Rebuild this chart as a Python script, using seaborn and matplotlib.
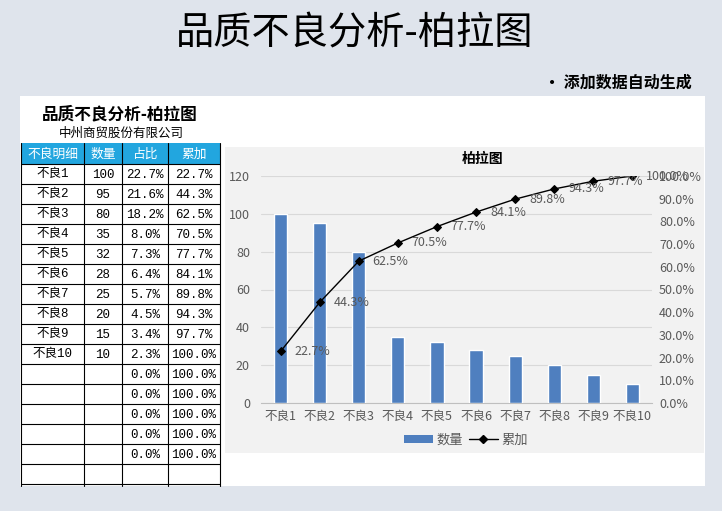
import matplotlib
matplotlib.use('Agg')
import matplotlib.pyplot as plt
import seaborn as sns
import pandas as pd
from matplotlib.patches import Rectangle, Patch
from matplotlib.lines import Line2D
from matplotlib.ticker import FuncFormatter, FixedLocator

# ---------------- data ----------------
categories = ['不良1', '不良2', '不良3', '不良4', '不良5', '不良6', '不良7', '不良8', '不良9', '不良10']
counts = [100, 95, 80, 35, 32, 28, 25, 20, 15, 10]
share_pct = [22.7, 21.6, 18.2, 8.0, 7.3, 6.4, 5.7, 4.5, 3.4, 2.3]
cum_pct = [22.7, 44.3, 62.5, 70.5, 77.7, 84.1, 89.8, 94.3, 97.7, 100.0]
extra_share = ['0.0%', '0.0%', '0.0%', '0.0%', '0.0%']
extra_cum = ['100.0%', '100.0%', '100.0%', '100.0%', '100.0%']
table_header = ['不良明细', '数量', '占比', '累加']
main_title = '品质不良分析-柏拉图'
note_text = '· 添加数据自动生成'
panel_title = '品质不良分析-柏拉图'
company = '中州商贸股份有限公司'
chart_title = '柏拉图'
left_ticks = [0, 20, 40, 60, 80, 100, 120]
right_ticks = [0, 10, 20, 30, 40, 50, 60, 70, 80, 90, 100]
series_names = ['数量', '累加']

df = pd.DataFrame({'cat': categories, 'count': counts, 'cum': cum_pct})

# ---------------- style ----------------
sns.set_theme(style='white')
plt.rcParams['font.family'] = ['Noto Sans CJK SC', 'DejaVu Sans']

W, H = 722, 511
BAR = '#4f7fbf'
GRAY = '#595959'
HEAD = '#22a6df'

fig = plt.figure(figsize=(W / 100, H / 100), dpi=100, facecolor='#dfe4ec')


def box(x0, y0, x1, y1):
    return [x0 / W, 1 - y1 / H, (x1 - x0) / W, (y1 - y0) / H]


bg = fig.add_axes([0, 0, 1, 1])
bg.set_xlim(0, W)
bg.set_ylim(H, 0)
bg.axis('off')
bg.set_zorder(0)

# panels
bg.add_patch(Rectangle((20, 96), 685, 390, facecolor='white', edgecolor='none'))
bg.add_patch(Rectangle((225, 147), 479, 306, facecolor='#f2f2f2', edgecolor='none'))

# titles
bg.text(355, 34, main_title, ha='center', va='center', fontsize=27.5, color='black')
bg.text(692, 83, note_text, ha='right', va='center', fontsize=11.5, fontweight='bold', color='black')
bg.text(120, 114, panel_title, ha='center', va='center', fontsize=12, fontweight='bold', color='black')
bg.text(121, 133, company, ha='center', va='center', fontsize=9, color='black')

# ---------------- table ----------------
cols = [21, 84, 122, 168, 220]
top, head_bot, row_h = 143, 164, 20
n_rows = 16
bottom = head_bot + n_rows * row_h
bg.add_patch(Rectangle((cols[0], top), cols[-1] - cols[0], head_bot - top,
                       facecolor=HEAD, edgecolor='none'))
for i, h in enumerate(table_header):
    bg.text((cols[i] + cols[i + 1]) / 2, (top + head_bot) / 2 + 0.5, h, ha='center', va='center',
            fontsize=9.2, color='white')

rows = []
for c, n, s, cu in zip(categories, counts, share_pct, cum_pct):
    rows.append([c, str(n), f'{s:.1f}%', f'{cu:.1f}%'])
for s, cu in zip(extra_share, extra_cum):
    rows.append(['', '', s, cu])
rows.append(['', '', '', ''])

cell_font = ['Liberation Mono', 'Noto Sans CJK SC']
for r, row in enumerate(rows):
    yc = head_bot + r * row_h + row_h / 2
    for i, v in enumerate(row):
        if v:
            bg.text((cols[i] + cols[i + 1]) / 2, yc + 0.5, v, ha='center', va='center',
                    fontsize=9, color='black', family=cell_font)

for r in range(n_rows + 1):
    y = head_bot + r * row_h
    bg.plot([cols[0], cols[-1]], [y, y], color='black', lw=0.8)
for x in cols:
    bg.plot([x, x], [top, 486], color='black', lw=0.8)

# ---------------- chart ----------------
ax = fig.add_axes(box(261, 176, 652, 403))
ax.set_zorder(2)
ax.patch.set_visible(False)
sns.barplot(data=df, x='cat', y='count', color=BAR, saturation=1, width=0.34, ax=ax, zorder=3)
ax.set_xlim(-0.5, len(categories) - 0.5)
ax.set_ylim(0, 120)
ax.yaxis.set_major_locator(FixedLocator(left_ticks))
ax.set_axisbelow(True)
ax.yaxis.grid(True, color='#d9d9d9', lw=0.8)
ax.xaxis.grid(False)
for s in ['top', 'left', 'right']:
    ax.spines[s].set_visible(False)
ax.spines['bottom'].set_color('#bfbfbf')
ax.spines['bottom'].set_linewidth(0.8)
ax.set_xlabel('')
ax.set_ylabel('')
ax.tick_params(axis='y', length=0, pad=8, labelsize=9, labelcolor=GRAY)
ax.tick_params(axis='x', length=0, pad=5, labelsize=9, labelcolor=GRAY)

ax2 = ax.twinx()
ax2.patch.set_visible(False)
sns.lineplot(data=df, x='cat', y='cum', sort=False, color='black', lw=1.0, marker='D',
             markersize=4.5, markeredgecolor='black', ax=ax2)
ax2.set_ylim(0, 100)
ax2.yaxis.set_major_locator(FixedLocator(right_ticks))
ax2.yaxis.set_major_formatter(FuncFormatter(lambda v, p: f'{v:.1f}%'))
for s in ax2.spines.values():
    s.set_visible(False)
ax2.set_ylabel('')
ax2.grid(False)
ax2.tick_params(axis='y', length=0, pad=5, labelsize=9, labelcolor=GRAY)
for i, v in enumerate(cum_pct):
    ax2.annotate(f'{v:.1f}%', xy=(i, v), xytext=(10, 0), textcoords='offset points',
                 ha='left', va='center', fontsize=9, color=GRAY)

bg.text(483, 159, chart_title, ha='center', va='center', fontsize=10, fontweight='bold', color='black')

handles = [Patch(facecolor=BAR, edgecolor='none'),
           Line2D([0], [0], color='black', lw=1.0, marker='D', markersize=4.5)]
fig.legend(handles, series_names, loc='center', bbox_to_anchor=(466 / W, 1 - 440 / H), ncol=2,
           frameon=False, fontsize=9.5, handlelength=2.2, handleheight=0.6, columnspacing=0.4,
           handletextpad=0.3, labelcolor=GRAY)

fig.savefig('out.png', dpi=100, facecolor=fig.get_facecolor())
